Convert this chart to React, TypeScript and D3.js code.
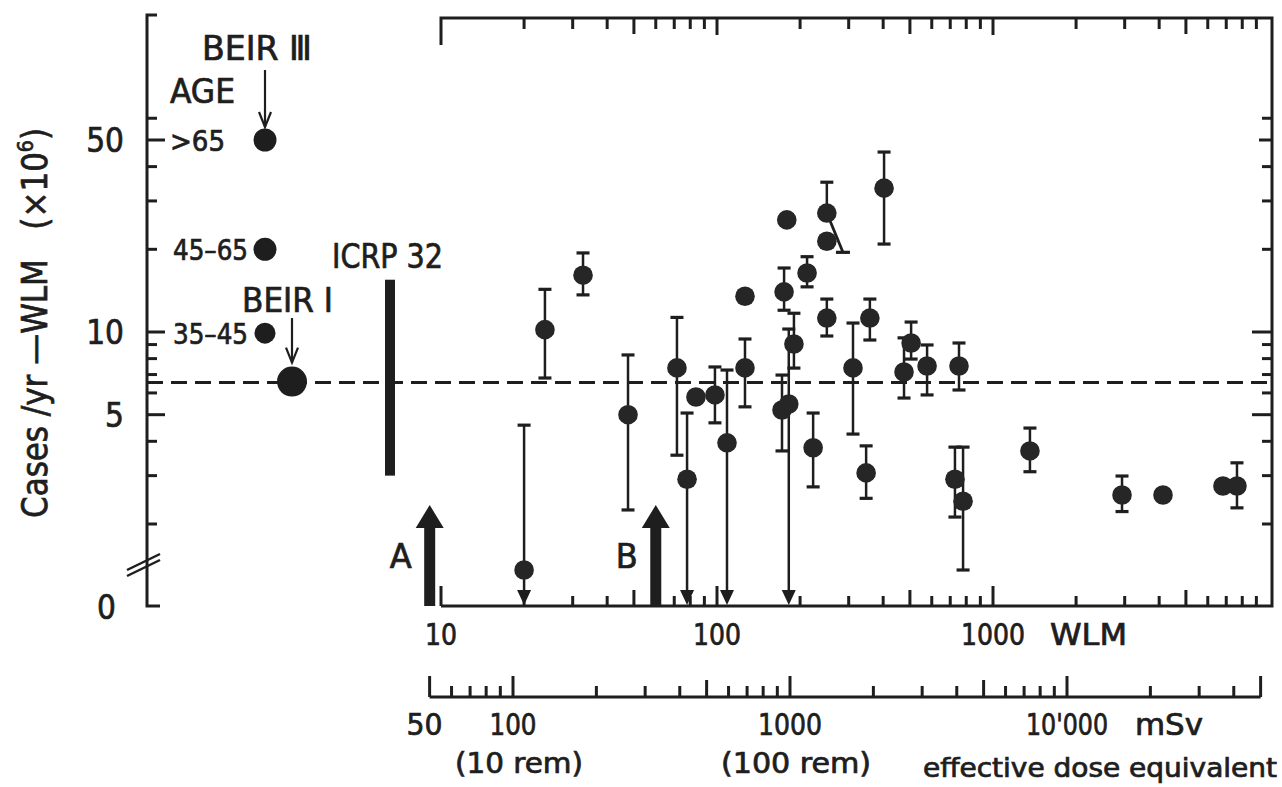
import React from 'react';
import * as d3 from 'd3';

// ---------- DATA ----------
const ageGroups = ['>65', '45–65', '35–45'];
const ageRates = [50, 20, 9.9];
const beirIRate = 6.6;
const referenceRate = 6.55; // dashed line
const icrpRange = [3.0, 15.5];

// Studies: exposure (WLM), rate (cases/yr-WLM x1e6), lower / upper error, upper-limit arrow
const studyWLM = [20, 23.8, 32.7, 47.6, 71.6, 77.9, 83.9, 98.3, 108.7, 126.3, 126.3, 179, 175, 172, 182, 190, 212, 223, 250, 250, 250, 311, 347, 358, 403, 476, 505, 577, 728, 753, 779, 1361, 2934, 4130, 6810, 7656];
const studyRate = [1.36, 10.2, 16.1, 5.0, 7.4, 2.91, 5.8, 5.9, 3.95, 7.4, 13.5, 25.6, 14.0, 5.2, 5.47, 9.04, 16.4, 3.79, 27.1, 21.4, 11.24, 7.4, 3.07, 11.24, 33.4, 7.15, 9.12, 7.52, 2.91, 7.52, 2.42, 3.69, 2.55, 2.55, 2.75, 2.75];
const studyLow: (number | null)[] = [null, 6.8, 13.65, 2.25, 3.56, null, null, 4.67, null, 5.34, null, null, 12.0, 3.69, null, 7.39, 14.6, 2.73, null, null, 9.67, 4.25, 2.48, 9.35, 20.9, 5.75, 7.97, 5.9, 2.12, 6.15, 1.36, 3.1, 2.22, null, null, 2.29];
const studyHigh: (number | null)[] = [4.58, 14.3, 19.4, 8.25, 11.3, 5.07, null, 7.46, 7.27, 9.43, null, null, 17.1, 6.97, 10.25, 11.7, 18.8, 5.07, 35.1, null, 13.18, 10.78, 3.85, 13.18, 45.2, 9.52, 10.87, 8.97, 3.81, 9.12, 3.81, 4.47, 2.99, null, null, 3.34];
const studyUpperLimit = [true, false, false, false, false, true, false, false, true, false, false, false, false, false, true, false, false, false, false, false, false, false, false, false, false, false, false, false, false, false, false, false, false, false, false, false];

// slanted error line (WLM, rate) from -> to
const slantWLM = [250, 286];
const slantRate = [27.1, 19.5];

const markerLabels = ['A', 'B'];
const markerWLM = [9.1, 60];

const yTickValues = [2, 3, 4, 5, 6, 7, 8, 9, 10, 20, 30, 40, 50, 60];
const yTickLabels = [50, 10, 5];
const wlmTickLabels = [10, 100, 1000];
const doseTickValues = [50, 100, 1000, 10000];
const doseTickText = ['50', '100', '1000', "10'000"];
const remDoses = [100, 1000];
const remText = ['(10 rem)', '(100 rem)'];

// ---------- LAYOUT ----------
const W = 1282;
const H = 787;
const FONT = "'DejaVu Sans Condensed', 'Liberation Sans Narrow', 'DejaVu Sans', sans-serif";
const INK = '#1e1e1e';
const TS = 0.7; // text stroke for scanned bold look
const leftAxisX = 147;
const axisTop = 15;
const zeroY = 606;
const breakY = 563;
const boxTop = 18;
const boxRight = 1272;
const doseAxisY = 697;

const yScale = d3.scaleLog().domain([10, 50]).range([332, 140]);
const xScale = d3.scaleLog().domain([10, 1000]).range([441, 993]);
const doseScale = d3.scaleLog().domain([100, 10000]).range([513, 1067]);
const leftX = d3.scaleOrdinal<string, number>().domain(['BEIR III', 'BEIR I', 'ICRP 32']).range([265, 292, 390]);

function decadeTicks(lo: number, hi: number) {
  const out: number[] = [];
  for (let p = 1; p <= 5; p++) {
    for (let k = 1; k <= 9; k++) {
      const v = k * Math.pow(10, p);
      if (v >= lo && v <= hi) out.push(v);
    }
  }
  return out;
}
const isPow10 = (v: number) => Math.abs(Math.log10(v) - Math.round(Math.log10(v))) < 1e-9;
const isFive = (v: number) => isPow10(v / 5);

export default function App() {
  const wlmTicks = decadeTicks(10, 9000);
  const doseTicks = decadeTicks(50, 50000);

  const arrowDown = (x: number, tipY: number, key: string) => (
    <path key={key} d={`M${x - 7},${tipY - 15} L${x + 7},${tipY - 15} L${x},${tipY} Z`} fill={INK} />
  );

  return (
    <svg width={W} height={H} style={{ position: 'absolute', left: 0, top: 0, background: '#fff' }} fontFamily={FONT}>
      <rect x={0} y={0} width={W} height={H} fill="#fff" />

      <g stroke={INK} strokeWidth={TS} fill={INK}>
        {/* Y axis title */}
        <text transform={`translate(47, 323) rotate(-90)`} textAnchor="middle" fontSize={36}
          textLength={390} lengthAdjust="spacingAndGlyphs" style={{ whiteSpace: 'pre' }}>
          {'Cases /yr —WLM   (×10'}<tspan dy={-14} fontSize={22}>6</tspan><tspan dy={14}>)</tspan>
        </text>

        <g fontSize={33} textAnchor="end">
          {yTickLabels.map((v) => (
            <text key={'ylab' + v} x={leftAxisX - 23} y={yScale(v) + 12}>{v}</text>
          ))}
          <text x={leftAxisX - 31} y={zeroY + 13}>0</text>
        </g>

        <text x={202} y={60} fontSize={34} textLength={110} lengthAdjust="spacingAndGlyphs">BEIR Ⅲ</text>
        <text x={170} y={103} fontSize={33} textLength={65} lengthAdjust="spacingAndGlyphs">AGE</text>
        {ageGroups.map((g, i) => (
          <text key={'ag' + g} x={i === 0 ? 170 : 173} y={yScale(ageRates[i]) + 11} fontSize={28}
            textLength={i === 0 ? 55 : 75} lengthAdjust="spacingAndGlyphs">{g}</text>
        ))}
        <text x={242} y={312} fontSize={33} textLength={91} lengthAdjust="spacingAndGlyphs">BEIR I</text>
        <text x={332} y={268} fontSize={33} textLength={111} lengthAdjust="spacingAndGlyphs">ICRP 32</text>

        <g fontSize={30} textAnchor="middle">
          {wlmTickLabels.map((v) => (
            <text key={'wl' + v} x={xScale(v)} y={645} textLength={String(v).length * 16} lengthAdjust="spacingAndGlyphs">{v}</text>
          ))}
          <text x={1050} y={645} textAnchor="start" textLength={77} lengthAdjust="spacingAndGlyphs">WLM</text>
        </g>

        {markerLabels.map((m, i) => (
          <text key={'ml' + m} x={xScale(markerWLM[i]) - 40} y={zeroY - 38} fontSize={33} textLength={22} lengthAdjust="spacingAndGlyphs">{m}</text>
        ))}

        <g fontSize={30} textAnchor="middle">
          {doseTickValues.map((v, i) => (
            <text key={'dl' + v} x={doseScale(v) - (v === 50 ? 5 : 0)} y={735}
              textLength={doseTickText[i].length === 2 ? 36 : doseTickText[i].length === 3 ? 47 : doseTickText[i].length === 4 ? 64 : 82}
              lengthAdjust="spacingAndGlyphs">{doseTickText[i]}</text>
          ))}
          <text x={1135} y={735} textAnchor="start" textLength={68} lengthAdjust="spacingAndGlyphs">mSv</text>
          {remDoses.map((v, i) => (
            <text key={'rem' + v} x={doseScale(v) + 6} y={773} fontSize={29}
              textLength={i === 0 ? 128 : 150} lengthAdjust="spacingAndGlyphs">{remText[i]}</text>
          ))}
          <text x={923} y={777} textAnchor="start" fontSize={26} textLength={354} lengthAdjust="spacingAndGlyphs">effective dose equivalent</text>
        </g>
      </g>

      {/* Left axis */}
      <g stroke={INK} strokeWidth={3} fill="none">
        <path d={`M${leftAxisX + 10},${axisTop} H${leftAxisX} V${zeroY} H${leftAxisX + 13}`} />
        {yTickValues.map((v) => {
          const major = v === 5 || v === 10 || v === 50;
          return <line key={'yl' + v} x1={leftAxisX} x2={leftAxisX + (major ? 18 : 10)} y1={yScale(v)} y2={yScale(v)} />;
        })}
        <line x1={127} y1={breakY + 7} x2={160} y2={breakY - 9} strokeWidth={2.5} />
        <line x1={127} y1={breakY + 13} x2={160} y2={breakY - 3} strokeWidth={2.5} />
      </g>

      {/* Dashed reference line */}
      <line x1={leftAxisX} x2={boxRight} y1={yScale(referenceRate)} y2={yScale(referenceRate)}
        stroke={INK} strokeWidth={3} strokeDasharray="16,8" />

      {/* BEIR III age points */}
      <g stroke={INK} strokeWidth={2.2} fill="none">
        <line x1={leftX('BEIR III')} x2={leftX('BEIR III')} y1={70} y2={yScale(ageRates[0]) - 13} />
        <path d={`M${leftX('BEIR III') - 6},${yScale(ageRates[0]) - 28} L${leftX('BEIR III')},${yScale(ageRates[0]) - 13} L${leftX('BEIR III') + 6},${yScale(ageRates[0]) - 28}`} />
      </g>
      {ageGroups.map((g, i) => (
        <circle key={g} cx={leftX('BEIR III')} cy={yScale(ageRates[i])} r={i === 2 ? 10.5 : 11.5} fill={INK} />
      ))}

      {/* BEIR I */}
      <g stroke={INK} strokeWidth={2.2} fill="none">
        <line x1={leftX('BEIR I')} x2={leftX('BEIR I')} y1={318} y2={yScale(beirIRate) - 19} />
        <path d={`M${leftX('BEIR I') - 6},${yScale(beirIRate) - 34} L${leftX('BEIR I')},${yScale(beirIRate) - 19} L${leftX('BEIR I') + 6},${yScale(beirIRate) - 34}`} />
      </g>
      <circle cx={leftX('BEIR I')} cy={yScale(beirIRate)} r={15} fill={INK} />

      {/* ICRP 32 */}
      <rect x={leftX('ICRP 32') - 5} width={10} y={yScale(icrpRange[1])} height={yScale(icrpRange[0]) - yScale(icrpRange[1])} fill={INK} />

      {/* WLM box */}
      <g stroke={INK} strokeWidth={3} fill="none">
        <path d={`M${xScale(10)},${boxTop + 27} V${boxTop} H${boxRight} V${zeroY} H${xScale(10)}`} />
        {wlmTicks.map((v) => {
          const len = isPow10(v) ? 20 : isFive(v) ? 16 : 10;
          return (
            <g key={'wt' + v}>
              {v !== 10 && <line x1={xScale(v)} x2={xScale(v)} y1={boxTop} y2={boxTop + (len === 20 ? 17 : len === 16 ? 16 : 11)} />}
              <line x1={xScale(v)} x2={xScale(v)} y1={zeroY} y2={zeroY - len} />
            </g>
          );
        })}
        {yTickValues.map((v) => {
          const len = v === 5 || v === 10 ? 20 : v === 50 ? 13 : 10;
          return <line key={'yr' + v} x1={boxRight} x2={boxRight - len} y1={yScale(v)} y2={yScale(v)} />;
        })}
      </g>

      {/* Marker arrows A and B */}
      {markerLabels.map((m, i) => {
        const x = xScale(markerWLM[i]);
        return (
          <path key={m} d={`M${x - 5.5},${zeroY} V${zeroY - 78} H${x - 14} L${x},${zeroY - 101} L${x + 14},${zeroY - 78} H${x + 5.5} V${zeroY} Z`} fill={INK} />
        );
      })}

      {/* Study points */}
      <g stroke={INK} fill="none">
        {studyWLM.map((w, i) => {
          const x = xScale(w);
          const hi = studyHigh[i];
          const lo = studyLow[i];
          const yTop = hi != null ? yScale(hi) : yScale(studyRate[i]);
          const yBot = studyUpperLimit[i] ? zeroY - 12 : lo != null ? yScale(lo) : yScale(studyRate[i]);
          return (
            <g key={'e' + i}>
              {yBot !== yTop && <line x1={x} x2={x} y1={yTop} y2={yBot} strokeWidth={2.5} />}
              {hi != null && <line x1={x - 6.5} x2={x + 6.5} y1={yTop} y2={yTop} strokeWidth={3.2} />}
              {lo != null && !studyUpperLimit[i] && <line x1={x - 6.5} x2={x + 6.5} y1={yBot} y2={yBot} strokeWidth={3.2} />}
            </g>
          );
        })}
        <line x1={xScale(slantWLM[0])} y1={yScale(slantRate[0])} x2={xScale(slantWLM[1])} y2={yScale(slantRate[1])} strokeWidth={2.8} />
        <line x1={xScale(slantWLM[1]) - 7} x2={xScale(slantWLM[1]) + 7} y1={yScale(slantRate[1])} y2={yScale(slantRate[1])} strokeWidth={3.2} />
      </g>
      {studyWLM.map((w, i) => studyUpperLimit[i] ? arrowDown(xScale(w), zeroY - 1, 'a' + i) : null)}
      {studyWLM.map((w, i) => (
        <circle key={'p' + i} cx={xScale(w)} cy={yScale(studyRate[i])} r={9.8} fill="#262626" />
      ))}

      {/* Dose axis */}
      <g stroke={INK} strokeWidth={3} fill="none">
        <line x1={doseScale(50)} x2={doseScale(50000)} y1={doseAxisY} y2={doseAxisY} />
        {doseTicks.map((v) => {
          const len = isPow10(v) || v === 50 || v === 50000 ? 21 : isFive(v) ? 17 : 11;
          return <line key={'dt' + v} x1={doseScale(v)} x2={doseScale(v)} y1={doseAxisY} y2={doseAxisY - len} />;
        })}
      </g>
    </svg>
  );
}
